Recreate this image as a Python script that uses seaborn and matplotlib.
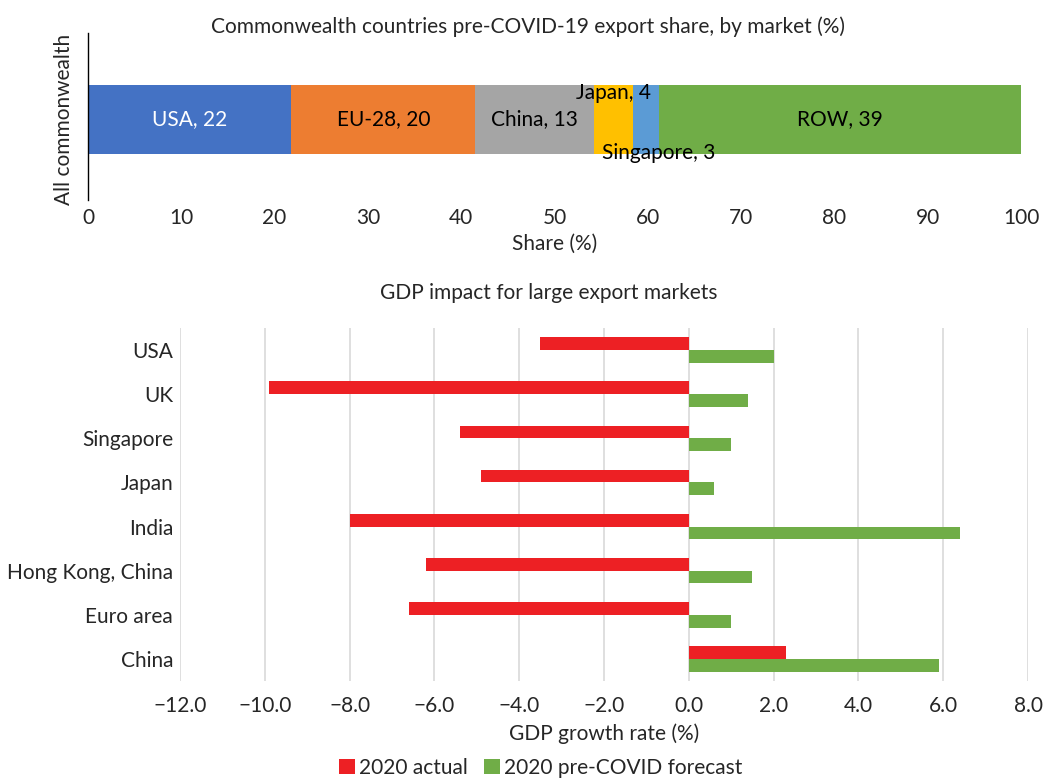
import numpy as np
import pandas as pd
import matplotlib
matplotlib.use("Agg")
import matplotlib.pyplot as plt
import seaborn as sns

# Export share by market (%), pre-COVID-19
share_markets = ["USA", "EU-28", "China", "Japan", "Singapore", "ROW"]
share_values = [21.8, 19.7, 12.7, 4.2, 2.8, 38.8]
share_labels = ["USA, 22", "EU-28, 20", "China, 13", "Japan, 4", "Singapore, 3", "ROW, 39"]
share_colors = ["#4472C4", "#ED7D31", "#A5A5A5", "#FFC000", "#5B9BD5", "#70AD47"]

# GDP impact for large export markets (%)
gdp_markets = ["USA", "UK", "Singapore", "Japan", "India", "Hong Kong, China", "Euro area", "China"]
gdp_actual = [-3.5, -9.9, -5.4, -4.9, -8.0, -6.2, -6.6, 2.3]
gdp_forecast = [2.0, 1.4, 1.0, 0.6, 6.4, 1.5, 1.0, 5.9]
series_names = ["2020 actual", "2020 pre-COVID forecast"]
series_colors = ["#ED2024", "#70AD47"]

FS = 15

sns.set_style("white")
plt.rcParams["font.family"] = ["Lato", "DejaVu Sans"]
plt.rcParams["font.size"] = FS

fig = plt.figure(figsize=(10.46, 7.78), dpi=100)

# ---- top: stacked share bar ----
ax1 = fig.add_axes([0.0841, 0.743, 0.892, 0.2147])
cum = np.cumsum(share_values)
# draw cumulative bars from the back so each segment shows
for i in reversed(range(len(share_values))):
    sns.barplot(x=[cum[i]], y=["All commonwealth"], color=share_colors[i],
                width=0.41, linewidth=0, saturation=1, ax=ax1)
ax1.set_xlim(0, 100)
ax1.set_ylim(0.482, -0.518)
ax1.set_xticks(range(0, 101, 10))
ax1.set_xlabel("Share (%)", fontsize=FS, labelpad=4)
ax1.set_ylabel("")
ax1.set_yticks([0])
ax1.set_yticklabels(["All commonwealth"], rotation=90, va="center", fontsize=FS)
ax1.tick_params(axis="x", length=0, pad=6)
ax1.tick_params(axis="y", length=0, pad=10)
for s in ["top", "right", "bottom"]:
    ax1.spines[s].set_visible(False)
ax1.spines["left"].set_color("black")
ax1.spines["left"].set_linewidth(1)

starts = cum - np.array(share_values)
mids = starts + np.array(share_values) / 2
for i, lab in enumerate(share_labels):
    color = "white" if share_markets[i] == "USA" else "black"
    if share_markets[i] == "Japan":
        ax1.text(mids[i], -0.16, lab, ha="center", va="center", color=color)
    elif share_markets[i] == "Singapore":
        ax1.text(cum[i], 0.2, lab, ha="center", va="center", color=color)
    else:
        ax1.text(mids[i], 0, lab, ha="center", va="center", color=color)

fig.text(0.505, 0.966, "Commonwealth countries pre-COVID-19 export share, by market (%)",
         ha="center", va="center", fontsize=FS)

# ---- bottom: GDP impact ----
df = pd.DataFrame({
    "market": gdp_markets * 2,
    "value": gdp_actual + gdp_forecast,
    "series": [series_names[0]] * len(gdp_markets) + [series_names[1]] * len(gdp_markets),
})

ax2 = fig.add_axes([0.1721, 0.1247, 0.8107, 0.4537])
sns.barplot(data=df, y="market", x="value", hue="series", order=gdp_markets,
            hue_order=series_names, palette=series_colors, width=0.58,
            linewidth=0, saturation=1, ax=ax2)
ax2.set_xlim(-12, 8)
ax2.set_xticks(np.arange(-12, 8.1, 2))
ax2.set_xticklabels([f"{v:.1f}".replace("-", "\u2212") for v in np.arange(-12, 8.1, 2)])
ax2.set_xlabel("GDP growth rate (%)", fontsize=FS, labelpad=5)
ax2.set_ylabel("")
ax2.tick_params(axis="both", length=0)
ax2.tick_params(axis="x", pad=11)
ax2.tick_params(axis="y", pad=5)
ax2.xaxis.grid(True, color="#D9D9D9", linewidth=1.2)
ax2.set_axisbelow(True)
for s in ax2.spines.values():
    s.set_visible(False)

fig.text(0.525, 0.624, "GDP impact for large export markets", ha="center", va="center", fontsize=FS)

sns.move_legend(ax2, "center", bbox_to_anchor=(0.517, 0.013), bbox_transform=fig.transFigure,
                ncol=2, frameon=False, title=None, handlelength=0.75, handleheight=0.75,
                handletextpad=0.2, columnspacing=0.8, fontsize=FS)

fig.savefig("out.png", dpi=100)
